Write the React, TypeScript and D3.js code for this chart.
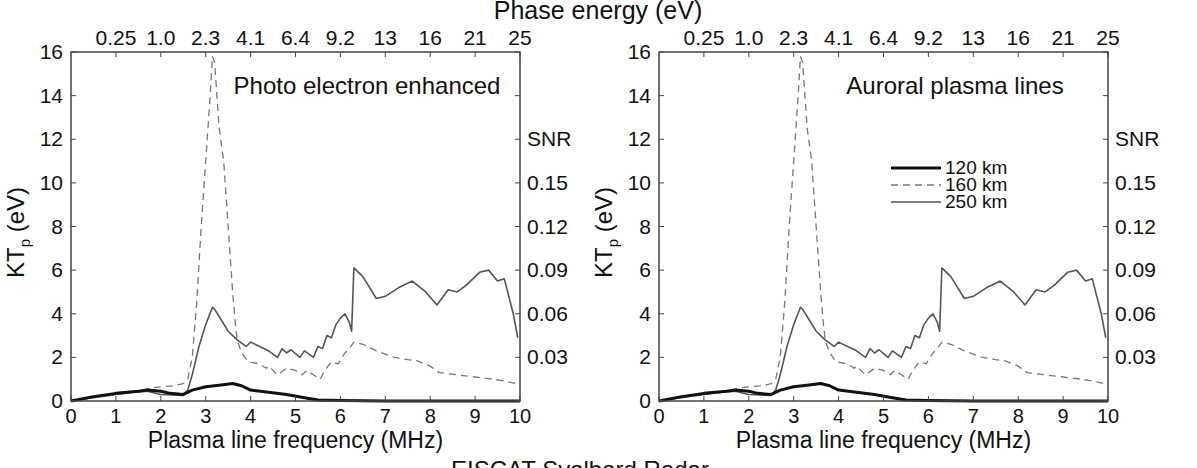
import React from 'react';
import * as d3 from 'd3';

// plasma line frequency (MHz) / electron temperature KT_p (eV)
const freq120 = [0, 0.5, 1.0, 1.5, 1.7, 2.0, 2.2, 2.5, 2.7, 3.0, 3.3, 3.6, 3.8, 4.0, 4.4, 4.8, 5.2, 5.5, 6.0, 7.0, 8.0, 9.0, 10.0];
const kt120 = [0, 0.2, 0.35, 0.45, 0.5, 0.45, 0.35, 0.3, 0.5, 0.65, 0.72, 0.8, 0.7, 0.5, 0.4, 0.3, 0.15, 0.05, 0.02, 0, 0, 0, 0];

const freq160 = [0, 0.5, 1.0, 1.5, 1.8, 2.0, 2.3, 2.5, 2.6, 2.7, 2.8, 2.9, 3.0, 3.1, 3.15, 3.2, 3.3, 3.4, 3.5, 3.6, 3.65, 3.7, 3.8, 3.95, 4.2, 4.35, 4.4, 4.6, 4.8, 5.0, 5.15, 5.25, 5.4, 5.55, 5.65, 5.8, 5.95, 6.1, 6.2, 6.3, 6.5, 6.8, 7.2, 7.5, 7.7, 8.0, 8.2, 8.6, 9.0, 9.4, 9.7, 9.9];
const kt160 = [0, 0.2, 0.3, 0.45, 0.6, 0.65, 0.7, 0.8, 1.0, 2.0, 4.5, 8.0, 11.0, 14.0, 15.8, 15.5, 12.5, 11.0, 8.0, 5.0, 3.8, 2.8, 2.2, 1.8, 1.7, 1.5, 1.6, 1.2, 1.5, 1.4, 1.2, 1.4, 1.2, 1.0, 1.4, 1.8, 1.7, 2.2, 2.4, 2.7, 2.6, 2.3, 2.0, 1.9, 1.85, 1.6, 1.3, 1.2, 1.1, 1.0, 0.9, 0.8];

const freq250 = [0, 0.5, 1.0, 1.4, 1.7, 2.0, 2.5, 2.6, 2.7, 2.85, 3.0, 3.15, 3.2, 3.35, 3.5, 3.7, 3.9, 4.0, 4.2, 4.4, 4.6, 4.7, 4.8, 4.9, 5.1, 5.2, 5.4, 5.5, 5.6, 5.7, 5.8, 5.9, 6.0, 6.1, 6.2, 6.25, 6.3, 6.5, 6.8, 7.0, 7.3, 7.6, 7.9, 8.15, 8.4, 8.6, 8.8, 9.1, 9.3, 9.5, 9.65, 9.85, 9.95];
const kt250 = [0, 0.15, 0.3, 0.4, 0.45, 0.3, 0.25, 0.5, 1.2, 2.5, 3.5, 4.3, 4.2, 3.7, 3.2, 2.8, 2.5, 2.7, 2.5, 2.3, 2.0, 2.4, 2.2, 2.35, 2.0, 2.3, 2.0, 2.5, 2.4, 3.0, 2.9, 3.5, 3.8, 4.0, 3.6, 3.2, 6.1, 5.7, 4.7, 4.8, 5.2, 5.5, 5.0, 4.4, 5.1, 5.0, 5.3, 5.9, 6.0, 5.5, 5.6, 4.0, 2.9];

const xTicks = [0, 1, 2, 3, 4, 5, 6, 7, 8, 9, 10];
const yTicks = [0, 2, 4, 6, 8, 10, 12, 14, 16];
const phaseLabels = ['0.25', '1.0', '2.3', '4.1', '6.4', '9.2', '13', '16', '21', '25'];
const snrLabels = ['0.03', '0.06', '0.09', '0.12', '0.15', 'SNR'];
const legendNames = ['120 km', '160 km', '250 km'];

const FONT = 'Liberation Sans, Arial, Helvetica, sans-serif';
const TOP = 52;
const BOTTOM = 401;
const PANEL_W = 449;

const styles = [
  { stroke: '#111', width: 3, dash: undefined as string | undefined },
  { stroke: '#777', width: 1.3, dash: '7,5' },
  { stroke: '#555', width: 1.6, dash: undefined as string | undefined },
];

const Panel: React.FC<{ left: number; title: string; legend?: boolean }> = ({ left, title, legend }) => {
  const x = d3.scaleLinear().domain([0, 10]).range([left, left + PANEL_W]);
  const y = d3.scaleLinear().domain([0, 16]).range([BOTTOM, TOP]);
  const line = d3.line<[number, number]>().x(d => x(d[0])).y(d => y(d[1]));
  const series: [number, number][][] = [
    freq120.map((f, i) => [f, kt120[i]]),
    freq160.map((f, i) => [f, kt160[i]]),
    freq250.map((f, i) => [f, kt250[i]]),
  ];
  const right = left + PANEL_W;
  const tick = 5;
  return (
    <g fontFamily={FONT} fill="#111">
      {/* curves, drawn back to front */}
      {[1, 2, 0].map(i => (
        <path key={i} d={line(series[i]) || ''} fill="none" stroke={styles[i].stroke}
          strokeWidth={styles[i].width} strokeDasharray={styles[i].dash} strokeLinejoin="round" />
      ))}
      <rect x={left} y={TOP} width={PANEL_W} height={BOTTOM - TOP} fill="none" stroke="#444" strokeWidth={1.5} />
      {xTicks.map(t => (
        <g key={'x' + t}>
          <line x1={x(t)} x2={x(t)} y1={BOTTOM} y2={BOTTOM - tick} stroke="#444" />
          <text x={x(t)} y={423} textAnchor="middle" fontSize={20}>{t}</text>
        </g>
      ))}
      {phaseLabels.map((s, i) => (
        <g key={'p' + s}>
          <line x1={x(i + 1)} x2={x(i + 1)} y1={TOP} y2={TOP + tick} stroke="#444" />
          <text x={x(i + 1)} y={45} textAnchor="middle" fontSize={21}>{s}</text>
        </g>
      ))}
      {yTicks.map(t => (
        <g key={'y' + t}>
          <line x1={left} x2={left + tick} y1={y(t)} y2={y(t)} stroke="#444" />
          <line x1={right} x2={right - tick} y1={y(t)} y2={y(t)} stroke="#444" />
          <text x={left - 8} y={y(t) + 7} textAnchor="end" fontSize={21}>{t}</text>
        </g>
      ))}
      {snrLabels.map((s, i) => (
        <text key={'s' + s} x={right + 7} y={y((i + 1) * 2) + 7} fontSize={21}>{s}</text>
      ))}
      <text x={left + PANEL_W / 2} y={448} textAnchor="middle" fontSize={23}>Plasma line frequency (MHz)</text>
      <text transform={`translate(${left - 47},${(TOP + BOTTOM) / 2 + 6}) rotate(-90)`} textAnchor="middle" fontSize={24}>
        KT<tspan fontSize={15} dy={6}>p</tspan><tspan dy={-6}> (eV)</tspan>
      </text>
      <text x={left + 296} y={94} textAnchor="middle" fontSize={24}>{title}</text>
      {legend && legendNames.map((n, i) => (
        <g key={n}>
          <line x1={left + 232} x2={left + 282} y1={168 + i * 17} y2={168 + i * 17}
            stroke={styles[i].stroke} strokeWidth={styles[i].width} strokeDasharray={styles[i].dash} />
          <text x={left + 286} y={174 + i * 17} fontSize={19}>{n}</text>
        </g>
      ))}
    </g>
  );
};

export default function App() {
  React.useEffect(() => {
    document.body.style.margin = '0';
  }, []);
  return (
    <svg width={1197} height={468} style={{ display: 'block', background: '#fff' }}>
      <text x={598} y={19} textAnchor="middle" fontSize={25} fontFamily={FONT} fill="#111">Phase energy (eV)</text>
      <Panel left={71} title="Photo electron enhanced" />
      <Panel left={659} title="Auroral plasma lines" legend />
      <text x={580} y={478} textAnchor="middle" fontSize={24} fontFamily={FONT} fill="#111">EISCAT Svalbard Radar</text>
    </svg>
  );
}
